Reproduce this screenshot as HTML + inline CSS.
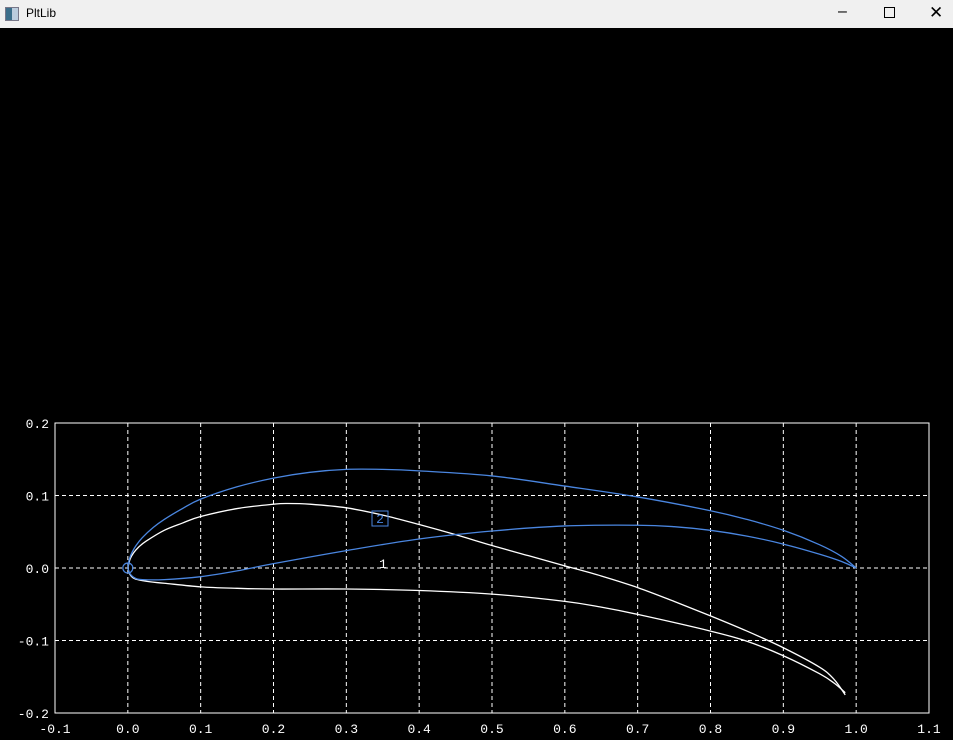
<!DOCTYPE html>
<html><head><meta charset="utf-8"><style>
body{margin:0;width:953px;height:740px;background:#000;overflow:hidden;font-family:"Liberation Sans",sans-serif}
#bar{position:absolute;left:0;top:0;width:953px;height:28px;background:#f0f0f0;color:#000;font-size:12px}
#plot{position:absolute;left:0;top:0}
</style></head><body>
<div id="bar">
<div style="position:absolute;left:5px;top:7px;width:12px;height:12px;border:1px solid #778;background:linear-gradient(90deg,#3b6e8a 50%,#bcd 50%)"></div>
<span style="position:absolute;left:26px;top:6px">PltLib</span>
<span style="position:absolute;left:838px;top:3px;font-size:16px">&#8211;</span>
<div style="position:absolute;left:884px;top:7px;width:9px;height:9px;border:1px solid #000"></div>
<span style="position:absolute;left:929px;top:3px;font-size:17px">&#10005;</span>
</div>
<svg id="plot" width="953" height="740"></svg>
<script>
const xTicks=[-0.1,0,0.1,0.2,0.3,0.4,0.5,0.6,0.7,0.8,0.9,1.0,1.1];
const yTicks=[-0.2,-0.1,0,0.1,0.2];
const blueUpperX=[0,0.002,0.006,0.012,0.02,0.035,0.05,0.075,0.1,0.15,0.2,0.25,0.3,0.35,0.4,0.5,0.6,0.7,0.8,0.85,0.9,0.95,0.98,1.0];
const blueUpperY=[0,0.012,0.022,0.032,0.042,0.056,0.067,0.082,0.095,0.112,0.124,0.132,0.136,0.136,0.134,0.127,0.113,0.098,0.079,0.067,0.052,0.032,0.016,0];
const blueLowerX=[0,0.003,0.01,0.02,0.05,0.1,0.15,0.2,0.3,0.4,0.5,0.6,0.7,0.75,0.8,0.85,0.9,0.95,0.98,1.0];
const blueLowerY=[0,-0.008,-0.014,-0.016,-0.016,-0.012,-0.004,0.006,0.024,0.04,0.051,0.058,0.059,0.057,0.052,0.044,0.033,0.019,0.009,0];
const whiteUpperX=[0,0.003,0.008,0.015,0.025,0.05,0.075,0.1,0.15,0.2,0.22,0.25,0.3,0.35,0.4,0.45,0.5,0.55,0.6,0.65,0.7,0.75,0.8,0.85,0.9,0.95,0.97,0.985];
const whiteUpperY=[0,0.012,0.021,0.029,0.037,0.052,0.062,0.071,0.082,0.088,0.089,0.088,0.083,0.073,0.06,0.046,0.031,0.017,0.003,-0.011,-0.027,-0.046,-0.066,-0.087,-0.11,-0.137,-0.154,-0.175];
const whiteLowerX=[0,0.003,0.01,0.03,0.05,0.1,0.15,0.2,0.3,0.4,0.5,0.6,0.65,0.7,0.8,0.85,0.9,0.95,0.97,0.985];
const whiteLowerY=[0,-0.009,-0.015,-0.019,-0.021,-0.026,-0.028,-0.029,-0.029,-0.031,-0.036,-0.046,-0.054,-0.064,-0.087,-0.101,-0.121,-0.146,-0.159,-0.172];
const L=55,R=929,T=423,B=713,X0=-0.1,X1=1.1,Y0=-0.2,Y1=0.2;
const sx=v=>L+(v-X0)/(X1-X0)*(R-L);
const sy=v=>B-(v-Y0)/(Y1-Y0)*(B-T);
const svg=document.getElementById('plot');
const NS='http://www.w3.org/2000/svg';
function mk(tag,attrs){const e=document.createElementNS(NS,tag);for(const k in attrs)e.setAttribute(k,attrs[k]);svg.appendChild(e);return e;}
xTicks.forEach((v,i)=>{
 if(i>0&&i<xTicks.length-1){const g=mk('line',{x1:sx(v),x2:sx(v),y1:T,y2:B,stroke:'#fff','stroke-dasharray':'4,3','stroke-width':1});
 
 }
 const t=mk('text',{x:sx(v),y:733,fill:'#fff','font-size':13,'font-family':'Liberation Mono, monospace','text-anchor':'middle'});
 t.textContent=v.toFixed(1);
 
 
});
yTicks.forEach((v,i)=>{
 if(i>0&&i<yTicks.length-1){const g=mk('line',{x1:L,x2:R,y1:sy(v),y2:sy(v),stroke:'#fff','stroke-dasharray':'4,3','stroke-width':1});
 
 }
 const t=mk('text',{x:49,y:sy(v)+5,fill:'#fff','font-size':13,'font-family':'Liberation Mono, monospace','text-anchor':'end'});
 t.textContent=v.toFixed(1);
 
 
});
const fr=mk('rect',{x:L,y:T,width:R-L,height:B-T,fill:'none',stroke:'#fff','stroke-width':1});


function curve(xs,ys,color,name){
 const P=xs.map((x,i)=>[sx(x),sy(ys[i])]);
 let d='M'+P[0][0]+','+P[0][1];
 for(let i=0;i<P.length-1;i++){
  const p0=P[i-1]||P[i],p1=P[i],p2=P[i+1],p3=P[i+2]||P[i+1];
  const c1=[p1[0]+(p2[0]-p0[0])/6,p1[1]+(p2[1]-p0[1])/6];
  const c2=[p2[0]-(p3[0]-p1[0])/6,p2[1]-(p3[1]-p1[1])/6];
  d+=' C'+c1[0]+','+c1[1]+' '+c2[0]+','+c2[1]+' '+p2[0]+','+p2[1];
 }
 const p=mk('path',{d:d,fill:'none',stroke:color,'stroke-width':1.3,'stroke-linejoin':'round'});
 
 
}
curve(whiteUpperX,whiteUpperY,'#fff','airfoil-1-upper');
curve(whiteLowerX,whiteLowerY,'#fff','airfoil-1-lower');
curve(blueUpperX,blueUpperY,'#4a86e0','airfoil-2-upper');
curve(blueLowerX,blueLowerY,'#4a86e0','airfoil-2-lower');
const c=mk('circle',{cx:sx(0),cy:sy(0),r:5,fill:'none',stroke:'#4a86e0','stroke-width':1.2});


const b=mk('rect',{x:372,y:511,width:16,height:15,fill:'none',stroke:'#4a86e0','stroke-width':1});


const t2=mk('text',{x:380,y:523,fill:'#4a86e0','font-size':13,'font-family':'Liberation Mono, monospace','text-anchor':'middle'});
t2.textContent='2';


const t1=mk('text',{x:383,y:568,fill:'#fff','font-size':13,'font-family':'Liberation Mono, monospace','text-anchor':'middle'});
t1.textContent='1';


</script>
</body></html>
